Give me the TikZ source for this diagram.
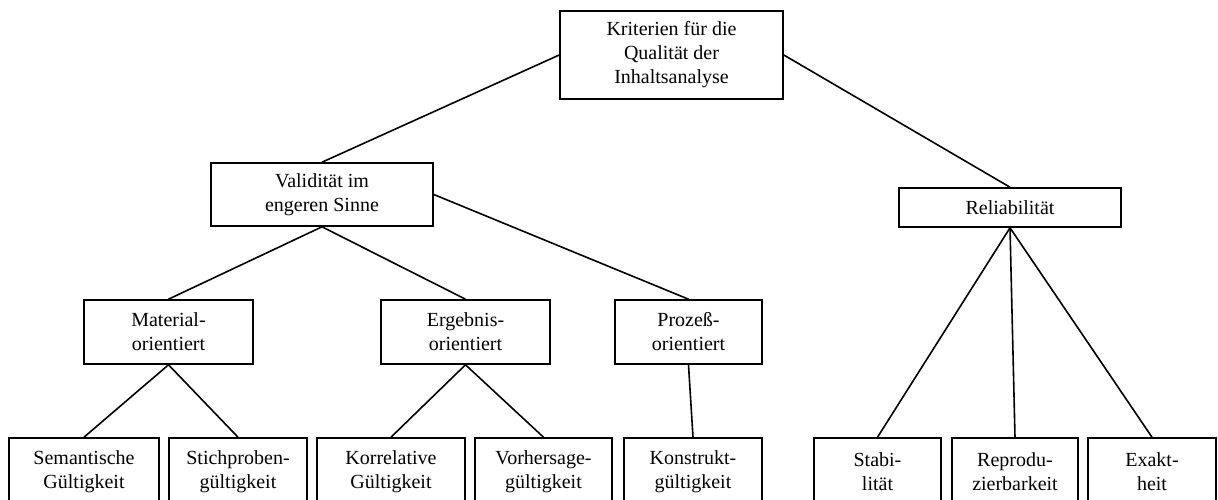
\documentclass[tikz,border=0pt]{standalone}
\usepackage{fontspec}
\setmainfont{Liberation Serif}
\usepackage{tikz}

\tikzset{
  kasten/.style={draw, line width=1.6pt, align=center, inner sep=0pt,
    font=\fontsize{20}{24}\selectfont},
  ast/.style={line width=1.6pt}
}

\begin{document}
\begin{tikzpicture}[x=1pt, y=-1pt]
    \useasboundingbox (0,0) rectangle (1218,499);
    \clip (0,0) rectangle (1218,499);
    % oberste Ebene
    \node[kasten, minimum width=223pt, minimum height=88pt] (krit) at (671.5,55) {Kriterien für die\\Qualität der\\Inhaltsanalyse};
    % zweite Ebene
    \node[kasten, minimum width=222pt, minimum height=63pt] (valid) at (322,194.5) {Validität im\\engeren Sinne};
    \node[kasten, minimum width=222pt, minimum height=39pt] (relia) at (1010,207.5) {Reliabilität};
    % dritte Ebene
    \node[kasten, minimum width=169pt, minimum height=64pt] (mat) at (168.5,332) {Material-\\orientiert};
    \node[kasten, minimum width=169pt, minimum height=64pt] (erg) at (465.5,332) {Ergebnis-\\orientiert};
    \node[kasten, minimum width=147pt, minimum height=64pt] (proz) at (688.5,332) {Prozeß-\\orientiert};
    % unterste Ebene
    \node[kasten, minimum width=150pt, minimum height=68pt] (sem) at (84,472) {Semantische\\Gültigkeit};
    \node[kasten, minimum width=138pt, minimum height=68pt] (stich) at (238,472) {Stichproben-\\gültigkeit};
    \node[kasten, minimum width=148pt, minimum height=68pt] (korr) at (391,472) {Korrelative\\Gültigkeit};
    \node[kasten, minimum width=137pt, minimum height=68pt] (vorh) at (543.5,472) {Vorhersage-\\gültigkeit};
    \node[kasten, minimum width=138pt, minimum height=68pt] (konst) at (693,472) {Konstrukt-\\gültigkeit};
    \node[kasten, minimum width=127pt, minimum height=68pt] (stab) at (877.5,472) {Stabi-\\lität};
    \node[kasten, minimum width=126pt, minimum height=68pt] (repro) at (1015,472) {Reprodu-\\zierbarkeit};
    \node[kasten, minimum width=128pt, minimum height=68pt] (exakt) at (1152,472) {Exakt-\\heit};
    % Verbindungen
    \draw[ast] (krit.west) -- (valid.north);
    \draw[ast] (krit.east) -- (relia.north);
    \draw[ast] (valid.south) -- (mat.north);
    \draw[ast] (valid.south) -- (erg.north);
    \draw[ast] (valid.east) -- (proz.north);
    \draw[ast] (mat.south) -- (sem.north);
    \draw[ast] (mat.south) -- (stich.north);
    \draw[ast] (erg.south) -- (korr.north);
    \draw[ast] (erg.south) -- (vorh.north);
    \draw[ast] (proz.south) -- (konst.north);
    \draw[ast] (relia.south) -- (stab.north);
    \draw[ast] (relia.south) -- (repro.north);
    \draw[ast] (relia.south) -- (exakt.north);
\end{tikzpicture}
\end{document}
